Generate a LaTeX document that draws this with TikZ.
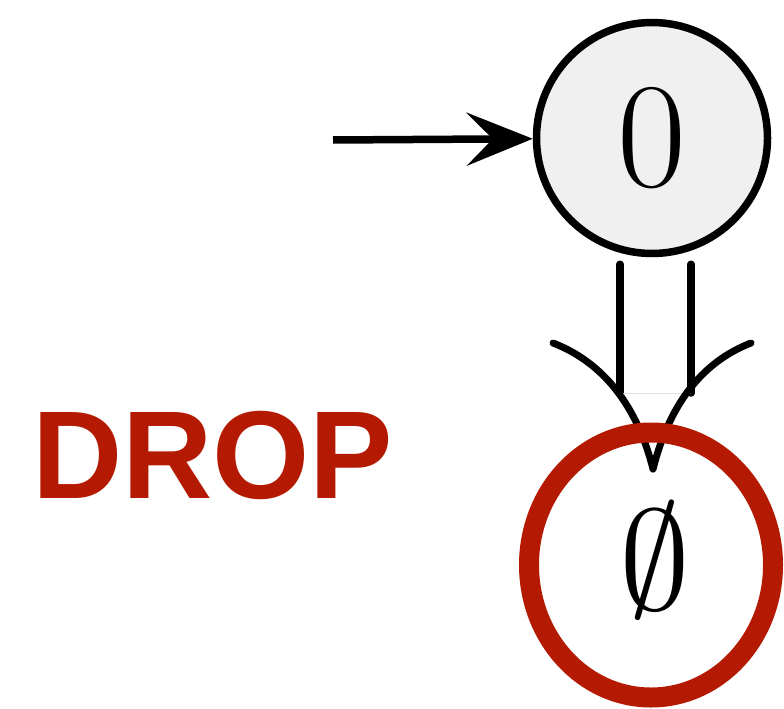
\documentclass[tikz,border=0pt]{standalone}
\usepackage{fontspec}
\DeclareFontShape{OMS}{cmsy}{m}{n}{<->cmsy10}{}
\newfontfamily\dropfont{Liberation Sans}
\usetikzlibrary{arrows.meta}
\definecolor{dropred}{RGB}{180,25,2}
\definecolor{stategray}{RGB}{240,240,240}
\tikzset{
  state/.style={circle, draw=black, line width=7.5pt, fill=stategray, minimum size=231pt, inner sep=0pt, font=\fontsize{150}{150}\selectfont},
  plain/.style={inner sep=0pt, font=\fontsize{142}{142}\selectfont},
  initarrow/.style={line width=7.5pt, -{Stealth[length=66pt, width=53pt, inset=26pt]}},
  dbl/.style={line width=7.5pt, line cap=round},
  wing/.style={line width=7pt, line cap=round},
  ring/.style={draw=dropred, line width=20pt},
  droplabel/.style={text=dropred, inner sep=0pt, font=\dropfont\bfseries\fontsize{125}{125}\selectfont}
}
\begin{document}
\begin{tikzpicture}[x=1pt, y=-1pt]
  \path[use as bounding box, fill=white] (0,0) rectangle (784,709);
  \node[state] (s0) at (652,138) {0};
  \node[plain] (empty) at (655,560) {$\emptyset$};
  \coordinate (start) at (333,140);
  \draw[initarrow] (start) -- (s0);
  % double arrow from s0 to empty
  \coordinate (tip) at (653,469);
  \draw[dbl] ([xshift=-32pt]s0.south) ++(0,7) coordinate (l1) -- (620,393) coordinate (l2);
  \draw[dbl] ([xshift=39pt]s0.south) ++(0,7) coordinate (r1) -- (691,393) coordinate (r2);
  \draw[line width=1pt, black!12] (l2) -- (r2);
  \draw[wing] (553,343) .. controls (597,360) and (635,398) .. (tip);
  \draw[wing] (751,343) .. controls (707,360) and (671,398) .. (tip);
  % annotation
  \draw[ring] (empty.center) ++(-4,5) ellipse [x radius=122, y radius=132.5];
  \node[droplabel, anchor=base west] (drop) at (32,498) {DROP};
\end{tikzpicture}
\end{document}
